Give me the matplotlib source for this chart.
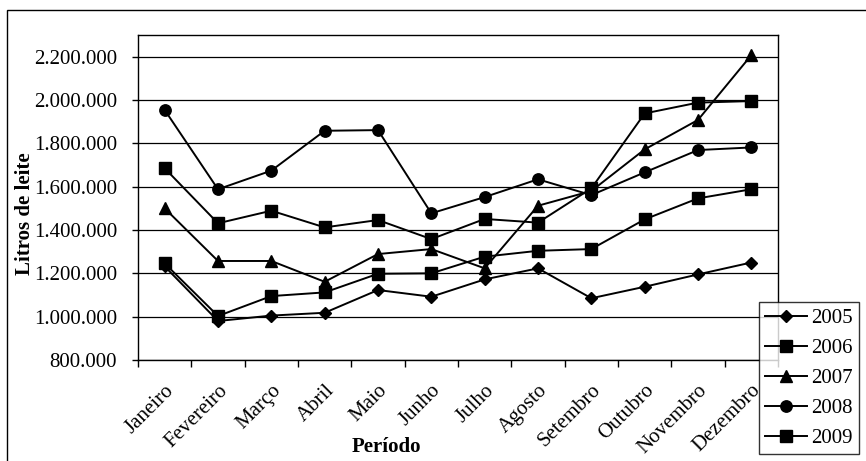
import matplotlib
matplotlib.use("Agg")
import matplotlib.pyplot as plt
from matplotlib.patches import Rectangle
from matplotlib.ticker import FuncFormatter
import numpy as np

# monthly milk volume (litres) per year
meses = ["Janeiro", "Fevereiro", "Março", "Abril", "Maio", "Junho",
         "Julho", "Agosto", "Setembro", "Outubro", "Novembro", "Dezembro"]
v2005 = [1232000, 980000, 1005000, 1018000, 1123000, 1092000,
         1172000, 1223000, 1085000, 1138000, 1195000, 1250000]
v2006 = [1246000, 1003000, 1095000, 1112000, 1198000, 1200000,
         1277000, 1304000, 1312000, 1449000, 1546000, 1588000]
v2007 = [1500000, 1257000, 1257000, 1161000, 1289000, 1312000,
         1223000, 1512000, 1580000, 1772000, 1908000, 2207000]
v2008 = [1954000, 1588000, 1674000, 1858000, 1861000, 1477000,
         1552000, 1634000, 1561000, 1666000, 1769000, 1781000]
v2009 = [1685000, 1431000, 1489000, 1412000, 1446000, 1358000,
         1451000, 1434000, 1592000, 1938000, 1988000, 1995000]
anos = ["2005", "2006", "2007", "2008", "2009"]

plt.rcParams["font.family"] = ["Liberation Serif", "DejaVu Serif"]
plt.rcParams["font.size"] = 15

fig = plt.figure(figsize=(8.66, 4.61), dpi=100)
ax = fig.add_axes([138 / 866, 1 - 360 / 461, 640 / 866, 325 / 461])

x = np.arange(len(meses))
series = [v2005, v2006, v2007, v2008, v2009]
markers = [("D", 6.2), ("s", 8.2), ("^", 8.4), ("o", 8.2), ("s", 8.8)]
for vals, (m, ms), ano in zip(series, markers, anos):
    ax.plot(x, vals, color="black", lw=1.4, marker=m, markersize=ms,
            markerfacecolor="black", markeredgecolor="black", label=ano)

ax.set_xlim(-0.5, len(meses) - 0.5)
ax.set_ylim(800000, 2300000)
ax.set_yticks(np.arange(800000, 2200001, 200000))
ax.yaxis.set_major_formatter(FuncFormatter(lambda v, p: f"{int(v):,}".replace(",", ".")))
ax.yaxis.grid(True, color="black", lw=0.9)
ax.set_axisbelow(True)

ax.set_xticks(x)
ax.set_xticklabels(meses, rotation=45, ha="right", rotation_mode="anchor")
ax.set_xticks(np.arange(-0.5, len(meses)), minor=True)
ax.tick_params(axis="x", which="major", length=0, pad=15)
ax.tick_params(axis="x", which="minor", length=5, width=1, direction="out")
ax.tick_params(axis="y", length=4, width=1, direction="out", pad=11)

for s in ax.spines.values():
    s.set_linewidth(1.0)
    s.set_color("black")

# axis titles placed in figure pixels
fig.text(25 / 866, 1 - 214 / 461, "Litros de leite", fontweight="bold",
         rotation=90, ha="center", va="center")
fig.text(386 / 866, 1 - 447 / 461, "Período", fontweight="bold",
         ha="center", va="center")

leg = fig.legend(loc="upper left", bbox_to_anchor=(759 / 866, 1 - 302 / 461),
                 frameon=True, fancybox=False, edgecolor="black",
                 handlelength=2.0, handletextpad=0.2, labelspacing=0.5,
                 borderpad=0.3, borderaxespad=0)
leg.get_frame().set_linewidth(1.0)

# frame around the whole chart
fig.patches.append(Rectangle((7 / 866, -0.2), 1.5, 1.2 - 10 / 461,
                             transform=fig.transFigure, fill=False,
                             edgecolor="black", lw=1.0, clip_on=False))

fig.savefig("out.png", dpi=100)
